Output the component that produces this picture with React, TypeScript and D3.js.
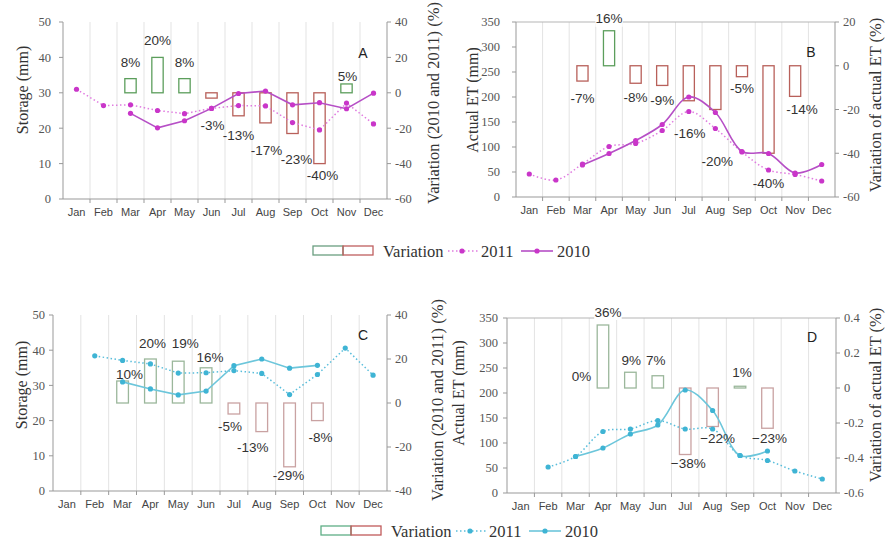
import React from "react";
import * as d3 from "d3";

const months = ["Jan", "Feb", "Mar", "Apr", "May", "Jun", "Jul", "Aug", "Sep", "Oct", "Nov", "Dec"];

// A: storage, first site (mm) and variation (%)
const storage2011A = [31, 26.4, 26.6, 25, 24.1, 25.6, 26.4, 26.3, 21.6, 19.5, 27.1, 21.2];
const storage2010A = [null, null, 24.2, 20.1, 22.1, 25.6, 29.8, 30.5, 26.6, 27.2, 25.5, 29.9];
const variationA = [null, null, 8, 20, 8, -3, -13, -17, -23, -40, 5, null];

// B: actual ET, first site (mm) and variation (%)
const et2011B = [46, 34, 66, 101, 107, 133, 171, 137, 90, 54, 45, 32];
const et2010B = [null, null, 64, 87, 113, 145, 200, 169, 91, 87, 48, 65];
const variationB = [null, null, -7, 16, -8, -9, -16, -20, -5, -40, -14, null];

// C: storage, second site
const storage2011C = [null, 38.4, 37.1, 36.1, 33.5, 33.6, 34.2, 33.4, 27.4, 33.1, 40.6, 32.9];
const storage2010C = [null, null, 31, 29, 27.3, 28.4, 35.6, 37.5, 34.9, 35.7, null, null];
const variationC = [null, null, 10, 20, 19, 16, -5, -13, -29, -8, null, null];

// D: actual ET, second site (variation as a fraction)
const et2011D = [null, 52, 73, 123, 128, 145, 128, 128, 75, 65, 44, 28];
const et2010D = [null, null, 73, 90, 118, 136, 206, 165, 75, 84, null, null];
const variationD = [null, null, 0, 0.36, 0.09, 0.07, -0.38, -0.22, 0.01, -0.23, null, null];

// tick values
const storageTicks = [0, 10, 20, 30, 40, 50];
const etTicks = [0, 50, 100, 150, 200, 250, 300, 350];
const varTicksA = [-60, -40, -20, 0, 20, 40];
const varTicksB = [-60, -40, -20, 0, 20];
const varTicksC = [-40, -20, 0, 20, 40];
const varTicksD = [-0.6, -0.4, -0.2, 0, 0.2, 0.4];

// label nudges [dx, dy] (layout only)
const nudgeA = [null, null, [0, -4], [0, -5], [0, -4], [1, 15], [0, 7], [1, 15], [4, 14], [3, 0], [1, 4], null];
const nudgeB = [null, null, [0, 5], [0, 0], [0, 2], [0, 3], [1, 21], [2, 40], [0, 0], [0, 18], [7, 1], null];
const nudgeC = [null, null, [7, 5], [2, -4], [7, -6], [4, 1], [-4, 0], [-9, 4], [-1, -4], [3, 5], null, null];
const nudgeD = [null, null, [6, 0], [5, -1], [1, 0], [-2, -3], [3, -3], [5, 0], [2, -2], [2, -2], null, null];

const MAGENTA = { point: "#c936c9", solid: "#b64fc6", dotted: "#e07be0" };
const CYAN = { point: "#3fb4d4", solid: "#6cc6db", dotted: "#58bddb" };
const BARS_DARK = { up: "#5c9e5c", down: "#b8605a" };
const BARS_LIGHT = { up: "#9bb79b", down: "#c9a2a2" };

const serif = { fontFamily: "Liberation Serif, DejaVu Serif, serif" };
const sans = { fontFamily: "Liberation Sans, Arial, sans-serif" };

type Cfg = {
  letter: string;
  x0: number; x1: number; y0: number; y1: number;
  left: number[]; leftTicks: number[];
  right: number[]; rightTicks: number[];
  s2011: (number | null)[]; s2010: (number | null)[];
  variation: (number | null)[];
  nudge: (number[] | null)[];
  pct: (v: number) => string;
  tickFmt: (v: number) => string;
  colors: typeof MAGENTA; bars: typeof BARS_DARK;
  smooth: boolean; topBorder: boolean;
  leftGap: number; posGap: number; negGap: number;
  leftTitle: string; leftTitlePos: number[];
  rightTitle: string; rightTitlePos: number[];
  letterDy: number;
};

function Panel({ c }: { c: Cfg }) {
  const x = d3.scaleBand().domain(months).range([c.x0, c.x1]);
  const yL = d3.scaleLinear().domain(c.left).range([c.y1, c.y0]);
  const yR = d3.scaleLinear().domain(c.right).range([c.y1, c.y0]);
  const cx = (i: number) => (x(months[i]) as number) + x.bandwidth() / 2;
  const bw = x.bandwidth() * 0.42;

  const line = d3
    .line<number | null>()
    .defined((d) => d != null)
    .x((_, i) => cx(i))
    .y((d) => yL(d as number))
    .curve(c.smooth ? d3.curveCatmullRom.alpha(0.5) : d3.curveLinear);

  return (
    <g>
      {/* gridlines */}
      {months.slice(1).map((m) => (
        <line key={m} x1={x(m)} x2={x(m)} y1={c.y0} y2={c.y1} stroke="#e3e3e3" />
      ))}
      {c.topBorder && <line x1={c.x0} x2={c.x1} y1={c.y0} y2={c.y0} stroke="#b5b5b5" />}
      {/* axes */}
      <line x1={c.x0} x2={c.x0} y1={c.y0} y2={c.y1} stroke="#999" />
      <line x1={c.x1} x2={c.x1} y1={c.y0} y2={c.y1} stroke="#999" />
      <line x1={c.x0} x2={c.x1} y1={c.y1} y2={c.y1} stroke="#999" />
      {months.map((m, i) => (
        <g key={m}>
          {i > 0 && <line x1={x(m)} x2={x(m)} y1={c.y1} y2={c.y1 + 4} stroke="#999" />}
          <text x={cx(i)} y={c.y1 + 17} textAnchor="middle" style={sans} fontSize={11} fill="#444">
            {m}
          </text>
        </g>
      ))}
      {c.leftTicks.map((t) => (
        <g key={"l" + t}>
          <line x1={c.x0 - 4} x2={c.x0} y1={yL(t)} y2={yL(t)} stroke="#999" />
          <text x={c.x0 - c.leftGap} y={yL(t)} dy="0.35em" textAnchor="end" style={serif} fontSize={12.5} fill="#555">
            {t}
          </text>
        </g>
      ))}
      {c.rightTicks.map((t) => (
        <g key={"r" + t}>
          <line x1={c.x1} x2={c.x1 + 4} y1={yR(t)} y2={yR(t)} stroke="#999" />
          <text x={c.x1 + 8} y={yR(t)} dy="0.35em" style={serif} fontSize={12.5} fill="#555">
            {c.tickFmt(t)}
          </text>
        </g>
      ))}
      {/* variation bars */}
      {c.variation.map((v, i) =>
        v == null || v === 0 ? null : (
          <rect
            key={"b" + i}
            x={cx(i) - bw / 2}
            y={Math.min(yR(v), yR(0))}
            width={bw}
            height={Math.abs(yR(v) - yR(0))}
            fill="none"
            stroke={v > 0 ? c.bars.up : c.bars.down}
            strokeWidth={1.3}
          />
        )
      )}
      {/* lines */}
      <path d={line(c.s2011) || ""} fill="none" stroke={c.colors.dotted} strokeWidth={1.5} strokeDasharray="1.5,2.5" />
      <path d={line(c.s2010) || ""} fill="none" stroke={c.colors.solid} strokeWidth={1.6} />
      {[c.s2011, c.s2010].map((s, k) =>
        s.map((v, i) =>
          v == null ? null : <circle key={k + "-" + i} cx={cx(i)} cy={yL(v)} r={2.6} fill={c.colors.point} />
        )
      )}
      {/* variation labels */}
      {c.variation.map((v, i) => {
        if (v == null) return null;
        const n = c.nudge[i] || [0, 0];
        const ly = (v >= 0 ? yR(v) - c.posGap : yR(v) + c.negGap) + n[1];
        const lx = cx(i) + n[0];
        const txt = c.pct(v);
        const w = txt.length * 7.8;
        return (
          <g key={"t" + i}>
            {ly - 8 < c.y0 && <rect x={lx - w / 2 - 2} y={ly - 8} width={w + 4} height={16} fill="#fff" />}
            <text x={lx} y={ly} dy="0.35em" textAnchor="middle" style={sans} fontSize={13.5} fill="#333">
              {txt}
            </text>
          </g>
        );
      })}
      <text x={c.x1 - 24} y={c.y0 + c.letterDy} dy="0.35em" textAnchor="middle" style={sans} fontSize={14} fill="#222">
        {c.letter}
      </text>
      <text
        transform={`translate(${c.leftTitlePos[0]},${c.leftTitlePos[1]}) rotate(-90)`}
        textAnchor="middle"
        dy="0.35em"
        style={serif}
        fontSize={16}
        fill="#333"
      >
        {c.leftTitle}
      </text>
      <text
        transform={`translate(${c.rightTitlePos[0]},${c.rightTitlePos[1]}) rotate(-90)`}
        textAnchor="middle"
        dy="0.35em"
        style={serif}
        fontSize={16.5}
        fill="#333"
      >
        {c.rightTitle}
      </text>
    </g>
  );
}

function Legend({ y, x0, colors, boxes }: { y: number; x0: number; colors: typeof MAGENTA; boxes: { up: string; down: string } }) {
  return (
    <g style={serif} fontSize={16.5} fill="#333">
      <rect x={x0} y={y - 5} width={30} height={9} fill="none" stroke={boxes.up} strokeWidth={1.3} />
      <rect x={x0 + 30} y={y - 5} width={30} height={9} fill="none" stroke={boxes.down} strokeWidth={1.3} />
      <text x={x0 + 70} y={y} dy="0.35em">Variation</text>
      <line x1={x0 + 135} x2={x0 + 165} y1={y} y2={y} stroke={colors.dotted} strokeWidth={1.5} strokeDasharray="1.5,2.5" />
      <circle cx={x0 + 149} cy={y} r={2.6} fill={colors.point} />
      <text x={x0 + 168} y={y} dy="0.35em">2011</text>
      <line x1={x0 + 208} x2={x0 + 240} y1={y} y2={y} stroke={colors.solid} strokeWidth={1.6} />
      <circle cx={x0 + 224} cy={y} r={2.6} fill={colors.point} />
      <text x={x0 + 244} y={y} dy="0.35em">2010</text>
    </g>
  );
}

const intPct = (v: number) => `${v}%`;
const fracPct = d3.format(".0%");
const intTick = (v: number) => `${v}`;
const fracTick = (v: number) => (v === 0 ? "0" : v.toFixed(1));

const panels: Cfg[] = [
  {
    letter: "A", x0: 63, x1: 387, y0: 22, y1: 199,
    left: [0, 50], leftTicks: storageTicks, right: [-60, 40], rightTicks: varTicksA,
    s2011: storage2011A, s2010: storage2010A, variation: variationA, nudge: nudgeA,
    pct: intPct, tickFmt: intTick, colors: MAGENTA, bars: BARS_DARK,
    smooth: false, topBorder: false, leftGap: 12, posGap: 12, negGap: 12,
    leftTitle: "Storage (mm)", leftTitlePos: [22, 90],
    rightTitle: "Variation (2010 and 2011) (%)", rightTitlePos: [433, 103], letterDy: 31,
  },
  {
    letter: "B", x0: 516, x1: 835, y0: 22, y1: 197,
    left: [0, 350], leftTicks: etTicks, right: [-60, 20], rightTicks: varTicksB,
    s2011: et2011B, s2010: et2010B, variation: variationB, nudge: nudgeB,
    pct: intPct, tickFmt: intTick, colors: MAGENTA, bars: BARS_DARK,
    smooth: true, topBorder: true, leftGap: 16, posGap: 12, negGap: 12,
    leftTitle: "Actual ET (mm)", leftTitlePos: [472, 100],
    rightTitle: "Variation of actual ET (%)", rightTitlePos: [875, 105], letterDy: 30,
  },
  {
    letter: "C", x0: 53, x1: 387, y0: 315, y1: 491,
    left: [0, 50], leftTicks: storageTicks, right: [-40, 40], rightTicks: varTicksC,
    s2011: storage2011C, s2010: storage2010C, variation: variationC, nudge: nudgeC,
    pct: intPct, tickFmt: intTick, colors: CYAN, bars: BARS_LIGHT,
    smooth: false, topBorder: false, leftGap: 8, posGap: 12, negGap: 12,
    leftTitle: "Storage (mm)", leftTitlePos: [21, 385],
    rightTitle: "Variation (2010 and 2011) (%)", rightTitlePos: [437, 400], letterDy: 20,
  },
  {
    letter: "D", x0: 507, x1: 836, y0: 318, y1: 493,
    left: [0, 350], leftTicks: etTicks, right: [-0.6, 0.4], rightTicks: varTicksD,
    s2011: et2011D, s2010: et2010D, variation: variationD, nudge: nudgeD,
    pct: (v) => fracPct(v), tickFmt: fracTick, colors: CYAN, bars: BARS_LIGHT,
    smooth: true, topBorder: true, leftGap: 9, posGap: 12, negGap: 12,
    leftTitle: "Actual ET (mm)", leftTitlePos: [458, 393],
    rightTitle: "Variation of actual ET (%)", rightTitlePos: [875, 395], letterDy: 19,
  },
];

export default function App() {
  return (
    <svg
      width={889}
      height={548}
      style={{ position: "absolute", left: 0, top: 0, background: "#fff" }}
    >
      <rect width={889} height={548} fill="#fff" />
      {panels.map((p) => (
        <Panel key={p.letter} c={p} />
      ))}
      <Legend y={251} x0={313} colors={MAGENTA} boxes={{ up: "#6a9e80", down: "#bf5f5f" }} />
      <Legend y={531} x0={321} colors={CYAN} boxes={{ up: "#5fae86", down: "#c05a5a" }} />
    </svg>
  );
}
